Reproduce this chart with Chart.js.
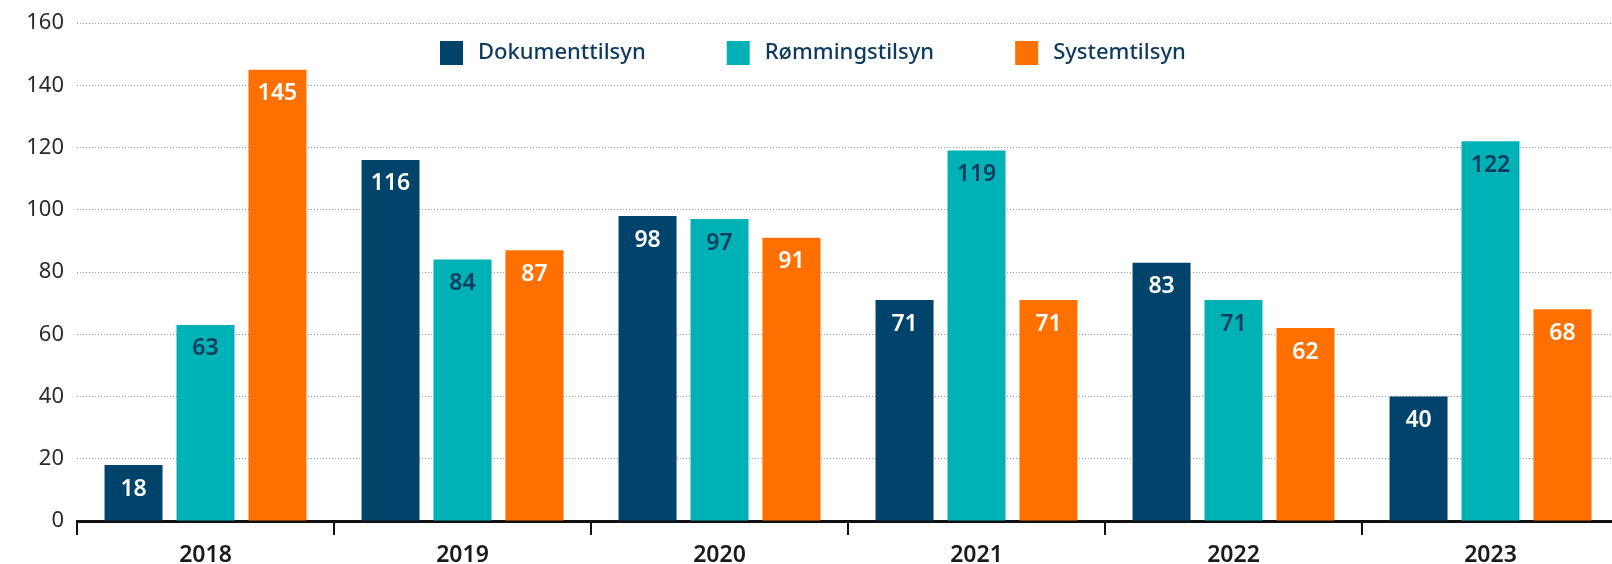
<!DOCTYPE html>
<html lang="no">
<head>
<meta charset="UTF-8">
<title>Tilsyn per år</title>
<script src="https://cdn.jsdelivr.net/npm/chart.js"></script>
<style>
    body {
        margin: 0;
        padding: 0;
        background: #ffffff;
        overflow: hidden;
    }
    .wrap {
        position: relative;
        width: 1620px;
        height: 564px;
    }
</style>
</head>
<body>
<div class="wrap">
    <canvas id="tilsynChart"></canvas>
</div>

<script>
    const years = ["2018", "2019", "2020", "2021", "2022", "2023"];
    const seriesNames = ["Dokumenttilsyn", "Rømmingstilsyn", "Systemtilsyn"];
    const dokumenttilsyn = [18, 116, 98, 71, 83, 40];
    const rommingstilsyn = [63, 84, 97, 119, 71, 122];
    const systemtilsyn = [145, 87, 91, 71, 62, 68];
    const yTicks = [0, 20, 40, 60, 80, 100, 120, 140, 160];

    const colors = ["#00436b", "#00b2b5", "#ff7000"];
    const labelColors = ["#ffffff", "#0b3c64", "#ffffff"];
    const FONT = "'Noto Sans', 'DejaVu Sans', sans-serif";

    // value labels just inside the top of every bar
    const barLabels = {
        id: "barLabels",
        afterDatasetsDraw(chart) {
            const ctx = chart.ctx;
            ctx.save();
            ctx.font = "600 23px " + FONT;
            ctx.textAlign = "center";
            ctx.textBaseline = "middle";
            chart.data.datasets.forEach((ds, i) => {
                const meta = chart.getDatasetMeta(i);
                meta.data.forEach((bar, j) => {
                    ctx.fillStyle = labelColors[i];
                    ctx.fillText(String(ds.data[j]), bar.x, bar.y + 24);
                });
            });
            ctx.restore();
        }
    };

    // legend drawn inside the plot, on top of the grid
    const insideLegend = {
        id: "insideLegend",
        afterDraw(chart) {
            const ctx = chart.ctx;
            ctx.save();
            ctx.font = "500 22px " + FONT;
            ctx.textBaseline = "middle";
            let x = 440;
            const y = 53;
            chart.data.datasets.forEach((ds) => {
                ctx.fillStyle = ds.backgroundColor;
                ctx.fillRect(x, y - 12, 23, 24);
                x += 23 + 15;
                ctx.fillStyle = "#0d3a5e";
                ctx.fillText(ds.label, x, y);
                x += ctx.measureText(ds.label).width + 81;
            });
            ctx.restore();
        }
    };

    const ctx = document.getElementById("tilsynChart").getContext("2d");
    new Chart(ctx, {
        type: "bar",
        data: {
            labels: years,
            datasets: [
                { label: seriesNames[0], data: dokumenttilsyn, backgroundColor: colors[0] },
                { label: seriesNames[1], data: rommingstilsyn, backgroundColor: colors[1] },
                { label: seriesNames[2], data: systemtilsyn, backgroundColor: colors[2] }
            ]
        },
        options: {
            responsive: true,
            maintainAspectRatio: false,
            animation: false,
            devicePixelRatio: 1,
            layout: { padding: { top: 23, right: 1, left: 0, bottom: 0 } },
            datasets: {
                bar: { categoryPercentage: 0.84, barPercentage: 0.806 }
            },
            plugins: {
                legend: { display: false },
                tooltip: { enabled: false }
            },
            scales: {
                x: {
                    grid: {
                        offset: true,
                        drawOnChartArea: false,
                        drawTicks: true,
                        tickLength: 14,
                        color: "#111111",
                        lineWidth: 2
                    },
                    border: { display: true, color: "#111111", width: 3 },
                    ticks: {
                        color: "#1a1a1a",
                        padding: 7,
                        font: { family: FONT, size: 23, weight: "600" }
                    },
                    afterFit(scale) {
                        scale.height = 43;
                        scale.paddingLeft = 0;
                        scale.paddingRight = 0;
                    }
                },
                y: {
                    min: 0,
                    max: 160,
                    afterBuildTicks(scale) {
                        scale.ticks = yTicks.map(v => ({ value: v }));
                    },
                    grid: {
                        color: "#8a9cae",
                        lineWidth: 1,
                        drawTicks: false
                    },
                    border: { display: false, dash: [1, 2] },
                    ticks: {
                        color: "#2a2a2a",
                        padding: 13,
                        font: { family: FONT, size: 22 }
                    },
                    afterFit(scale) {
                        scale.width = 77;
                        scale.paddingTop = 0;
                        scale.paddingBottom = 0;
                    }
                }
            }
        },
        plugins: [barLabels, insideLegend]
    });
</script>
</body>
</html>
